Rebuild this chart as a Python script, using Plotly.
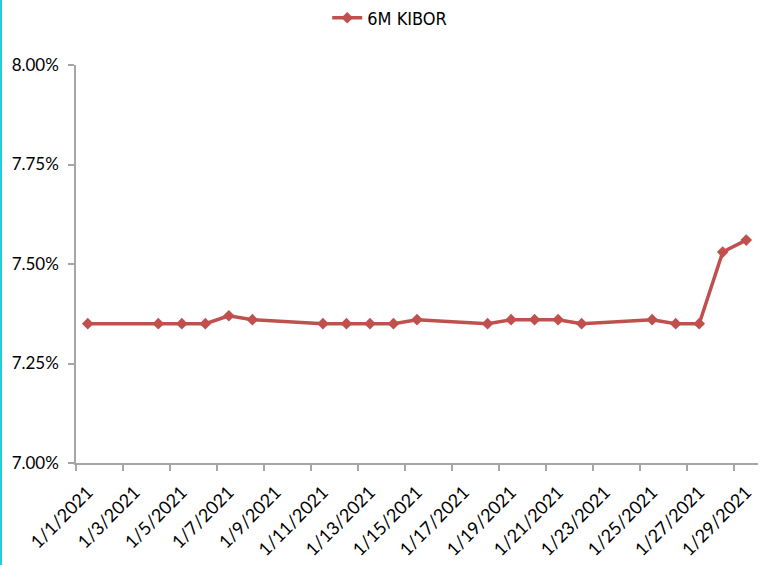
import plotly.graph_objects as go

dates = ["2021-01-01", "2021-01-04", "2021-01-05", "2021-01-06", "2021-01-07", "2021-01-08",
         "2021-01-11", "2021-01-12", "2021-01-13", "2021-01-14", "2021-01-15",
         "2021-01-18", "2021-01-19", "2021-01-20", "2021-01-21", "2021-01-22",
         "2021-01-25", "2021-01-26", "2021-01-27", "2021-01-28", "2021-01-29"]
kibor = [7.35, 7.35, 7.35, 7.35, 7.37, 7.36,
         7.35, 7.35, 7.35, 7.35, 7.36,
         7.35, 7.36, 7.36, 7.36, 7.35,
         7.36, 7.35, 7.35, 7.53, 7.56]
tick_dates = ["2021-01-%02d" % d for d in range(1, 30, 2)]
tick_labels = ["1/%d/2021" % d for d in range(1, 30, 2)]
y_ticks = [7.00, 7.25, 7.50, 7.75, 8.00]
y_labels = ["%.2f%%" % v for v in y_ticks]

font_main = "Lato, Roboto, sans-serif"

fig = go.Figure()
fig.add_trace(go.Scatter(
    x=dates, y=kibor, mode="lines+markers", name="6M KIBOR",
    line=dict(color="#C0504D", width=3.5),
    marker=dict(symbol="diamond", size=9, color="#C0504D"),
))

fig.update_layout(
    width=761, height=565,
    paper_bgcolor="white", plot_bgcolor="white",
    margin=dict(l=76, r=3, t=65, b=102, autoexpand=False),
    font=dict(family=font_main, size=16, color="#000000"),
    showlegend=True,
    legend=dict(orientation="h", x=0.46, xanchor="center", y=1.118, yanchor="middle",
                font=dict(family="Liberation Sans Narrow, DejaVu Sans Condensed, sans-serif", size=18),
                itemwidth=30),
    xaxis=dict(
        type="date", automargin=False,
        range=["2020-12-31 12:00", "2021-01-29 12:00"],
        tickvals=tick_dates, ticktext=tick_labels,
        tickangle=-45, ticks="", ticklabelstandoff=10,
        showline=True, linecolor="#a6a6a6", linewidth=1.5,
        showgrid=False, zeroline=False,
        minor=dict(tick0="2020-12-31 12:00", dtick=2 * 86400000, ticks="outside",
                   ticklen=6, tickcolor="#a6a6a6", tickwidth=1.5, showgrid=False),
        tickfont=dict(size=18),
    ),
    yaxis=dict(
        range=[7.0, 8.0], tickvals=y_ticks, ticktext=y_labels, automargin=False,
        ticks="outside", ticklen=6, tickcolor="#a6a6a6", tickwidth=1.5,
        ticklabelstandoff=6,
        showline=True, linecolor="#a6a6a6", linewidth=1.5,
        showgrid=False, zeroline=False, tickfont=dict(size=17),
    ),
)
fig.add_shape(type="line", xref="paper", yref="paper",
              x0=-75/682, x1=-75/682, y0=-102/398, y1=(398+65)/398,
              line=dict(color="#22cfd8", width=2))

fig.write_html("out.html", config={"displayModeBar": False},
               post_script="document.body.style.margin='0';")
